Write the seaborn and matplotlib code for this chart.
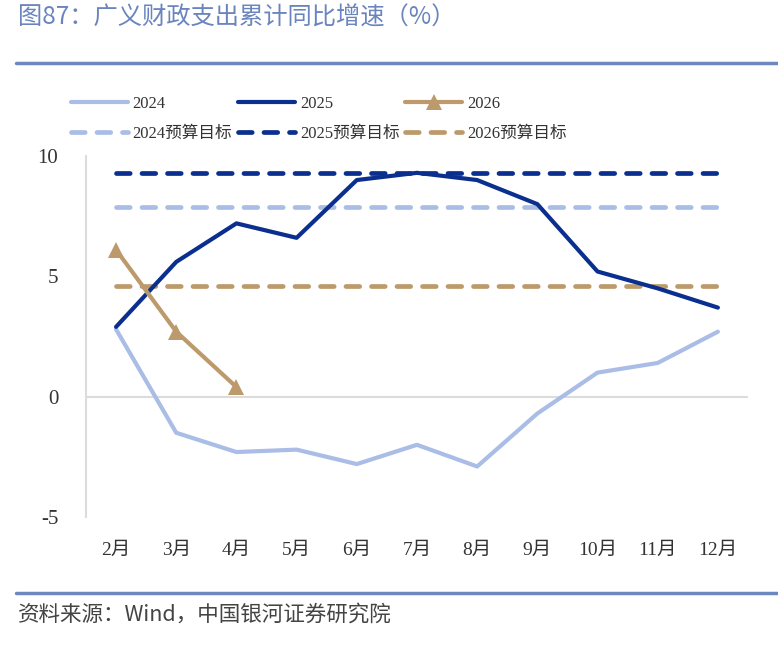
import pandas as pd
import seaborn as sns
import matplotlib.pyplot as plt
from matplotlib.lines import Line2D

# 数据
months = ['2月', '3月', '4月', '5月', '6月', '7月', '8月', '9月', '10月', '11月', '12月']
y2024 = [2.8, -1.5, -2.3, -2.2, -2.8, -2.0, -2.9, -0.7, 1.0, 1.4, 2.7]
y2025 = [2.9, 5.6, 7.2, 6.6, 9.0, 9.3, 9.0, 8.0, 5.2, 4.5, 3.7]
y2026 = [6.1, 2.7, 0.4]
target2024 = 7.9
target2025 = 9.3
target2026 = 4.6

c24 = '#aabde6'
c25 = '#0b2f8e'
c26 = '#bd9a6b'

sns.set_theme(style='white')
fam = ['Liberation Serif', 'Noto Sans CJK SC', 'DejaVu Sans']
plt.rcParams['font.family'] = fam
plt.rcParams['axes.unicode_minus'] = False

fig = plt.figure(figsize=(7.78, 6.51), dpi=100)
ax = fig.add_axes([0.1105, 0.2058, 0.8509, 0.5546])

lw = 3.0
dlw = 3.4
dash = (2.9, 2.5)

df24 = pd.DataFrame({'month': months, 'v': y2024})
df25 = pd.DataFrame({'month': months, 'v': y2025})
df26 = pd.DataFrame({'month': months[:3], 'v': y2026})

ax.axhline(0, color='#dcdcdc', lw=1.5, zorder=0)

# 预算目标虚线
for val, c in [(target2025, c25), (target2024, c24), (target2026, c26)]:
    dft = pd.DataFrame({'month': months, 'v': [val] * len(months)})
    sns.lineplot(data=dft, x='month', y='v', ax=ax, color=c, lw=dlw, sort=False)
    ln = ax.lines[-1]
    ln.set_dashes(dash)
    ln.set_dash_capstyle('round')

sns.lineplot(data=df24, x='month', y='v', ax=ax, color=c24, lw=lw, sort=False)
sns.lineplot(data=df25, x='month', y='v', ax=ax, color=c25, lw=lw, sort=False)
sns.lineplot(data=df26, x='month', y='v', ax=ax, color=c26, lw=lw, sort=False,
             marker='^', markersize=11, markeredgewidth=0)

ax.set_xlim(-0.5, 10.5)
ax.set_ylim(-5, 10)
ax.set_yticks([-5, 0, 5, 10])
ax.set_xlabel('')
ax.set_ylabel('')
for s in ['top', 'right', 'bottom']:
    ax.spines[s].set_visible(False)
ax.spines['left'].set_color('#dcdcdc')
ax.spines['left'].set_linewidth(1.5)
ax.tick_params(axis='y', length=0, pad=20, labelsize=15, labelcolor='#333333')
ax.tick_params(axis='x', length=0, pad=18, labelsize=14, labelcolor='#333333')

def dline(c):
    h = Line2D([], [], color=c, lw=dlw)
    h.set_dashes(dash)
    h.set_dash_capstyle('round')
    return h

handles = [
    Line2D([], [], color=c24, lw=lw), dline(c24),
    Line2D([], [], color=c25, lw=lw), dline(c25),
    Line2D([], [], color=c26, lw=lw, marker='^', markersize=11, markeredgewidth=0), dline(c26),
]
labels = ['2024', '2024预算目标', '2025', '2025预算目标', '2026', '2026预算目标']
fig.legend(handles, labels, ncol=3, frameon=False, loc='center left',
           bbox_to_anchor=(71 / 778, 1 - 119 / 651), fontsize=12,
           handlelength=3.4, handletextpad=0.3, columnspacing=0.35,
           labelspacing=0.85, labelcolor='#333333', borderpad=0, borderaxespad=0)

fig.text(18 / 778, 1 - 18 / 651, '图87：广义财政支出累计同比增速（%）', fontsize=17.5,
         color='#6a84bd', va='center', ha='left', family=['Noto Sans CJK SC', 'DejaVu Sans'])
fig.add_artist(Line2D([16 / 778, 1], [1 - 63 / 651, 1 - 63 / 651], color='#6c88be', lw=2.5,
                      transform=fig.transFigure))
fig.add_artist(Line2D([16 / 778, 1], [1 - 593 / 651, 1 - 593 / 651], color='#6c88be', lw=2.5,
                      transform=fig.transFigure))
fig.text(18 / 778, 1 - 615 / 651, '资料来源：Wind，中国银河证券研究院', fontsize=15.5,
         color='#444444', va='center', ha='left', style='italic',
         family=['Noto Sans CJK SC', 'DejaVu Sans'])

fig.savefig('out.png', dpi=100)
